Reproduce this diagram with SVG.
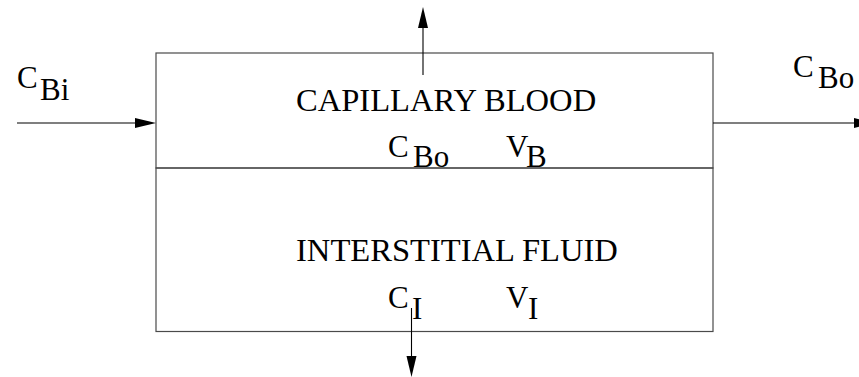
<svg xmlns="http://www.w3.org/2000/svg" width="859" height="377" viewBox="0 0 859 377">
<style>
.box{fill:none;stroke:#4a4a4a;stroke-width:1.2}
.ln{fill:none;stroke:#000;stroke-width:1.1}
.ah{fill:#000}
.lbl{font-family:"Liberation Serif","Times New Roman",serif;font-size:32.6px;fill:#000}
.sym{font-family:"Liberation Serif","Times New Roman",serif;font-size:31px;fill:#000}
.sub{font-family:"Liberation Serif","Times New Roman",serif;font-size:31px;fill:#000}
</style>
<rect width="859" height="377" fill="#fff"/>
<g id="capillary-blood">
<rect class="box" x="156" y="53" width="557" height="115"/>
<text class="lbl" x="296" y="111">CAPILLARY BLOOD</text>
<text class="sym" x="388" y="157">C</text><text class="sub" x="413" y="167">Bo</text>
<text class="sym" x="506" y="157">V</text><text class="sub" x="526" y="167">B</text>
</g>
<g id="interstitial-fluid">
<rect class="box" x="156" y="168" width="557" height="163.5"/>
<text class="lbl" x="296" y="261">INTERSTITIAL FLUID</text>
<text class="sym" x="388" y="308">C</text><text class="sub" x="412" y="319">I</text>
<text class="sym" x="506" y="308">V</text><text class="sub" x="528" y="319">I</text>
</g>
<g id="labels">
<text class="sym" x="17" y="88">C</text><text class="sub" x="40" y="100">Bi</text>
<text class="sym" x="793" y="77">C</text><text class="sub" x="818" y="88">Bo</text>
</g>
<g id="connectors">
<line class="ln" x1="17" y1="123" x2="140" y2="123"/>
<polygon class="ah" points="135,118 156,123 135,128"/>
<line class="ln" x1="713" y1="123" x2="855" y2="123"/>
<polygon class="ah" points="854,118 875,123 854,128"/>
<line class="ln" x1="423" y1="75" x2="423" y2="24"/>
<polygon class="ah" points="418,28 423,7 428,28"/>
<line class="ln" x1="411.5" y1="308" x2="411.5" y2="360"/>
<polygon class="ah" points="406.5,356 411.5,377 416.5,356"/>
</g>
</svg>
